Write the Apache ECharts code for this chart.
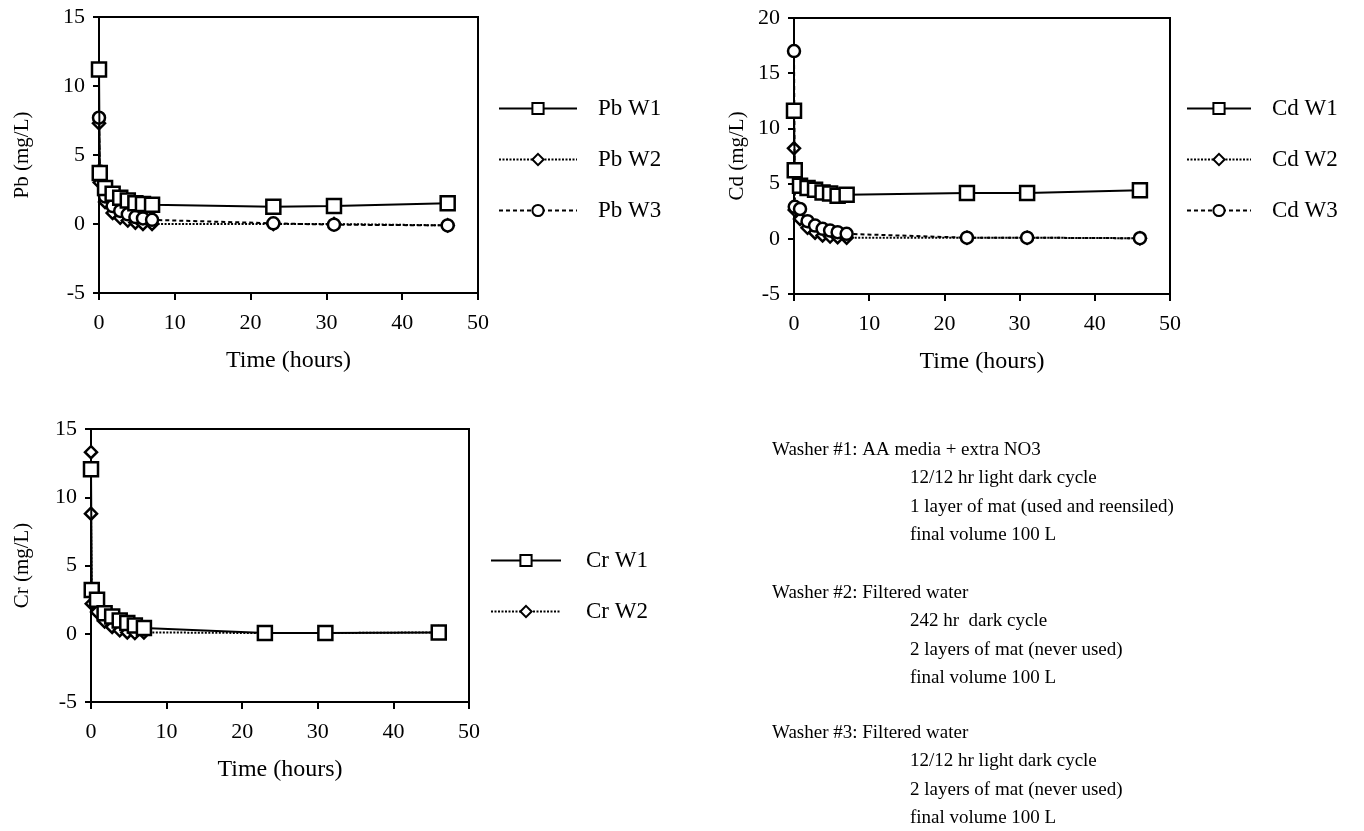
<!DOCTYPE html>
<html>
<head>
<meta charset="utf-8">
<script src="https://cdn.jsdelivr.net/npm/echarts@6/dist/echarts.min.js"></script>
<style>
html,body{margin:0;padding:0;background:#fff;}
#main{width:1364px;height:831px;}
</style>
</head>
<body>
<div id="main"></div>
<script>
// ---- data ----
const hours = [0, 0.1, 0.8, 1.8, 2.8, 3.8, 4.8, 5.8, 7, 23, 31, 46];
const crW2Hours = [0, 0, 0.1, 0.8, 1.8, 2.8, 3.8, 4.8, 5.8, 7, 23, 31, 46];

const pbW1 = [11.2, 3.7, 2.6, 2.2, 1.9, 1.7, 1.5, 1.45, 1.4, 1.25, 1.3, 1.5];
const pbW2 = [7.3, 3.0, 1.6, 0.8, 0.45, 0.25, 0.1, 0.0, 0.0, 0.0, 0.0, -0.1];
const pbW3 = [7.7, 3.8, 2.0, 1.3, 0.95, 0.7, 0.5, 0.4, 0.3, 0.05, -0.05, -0.1];

const cdW1 = [11.6, 6.2, 4.8, 4.6, 4.45, 4.2, 4.1, 3.9, 4.0, 4.15, 4.15, 4.4];
const cdW2 = [8.2, 2.6, 1.8, 1.0, 0.55, 0.3, 0.2, 0.15, 0.1, 0.1, 0.1, 0.05];
const cdW3 = [17.0, 2.9, 2.7, 1.6, 1.2, 0.9, 0.75, 0.6, 0.45, 0.1, 0.1, 0.05];

const crW1 = [12.05, 3.2, 2.5, 1.5, 1.27, 0.97, 0.78, 0.61, 0.42, 0.05, 0.05, 0.1];
const crW2 = [13.3, 8.8, 2.2, 1.6, 0.9, 0.5, 0.25, 0.1, 0.05, 0.1, 0.05, 0.05, 0.1];

const noteLines = [
  ['Washer #1: AA media + extra NO3', '12/12 hr light dark cycle', '1 layer of mat (used and reensiled)', 'final volume 100 L'],
  ['Washer #2: Filtered water', '242 hr  dark cycle', '2 layers of mat (never used)', 'final volume 100 L'],
  ['Washer #3: Filtered water', '12/12 hr light dark cycle', '2 layers of mat (never used)', 'final volume 100 L']
];

// ---- helpers ----
const FONT = 'Liberation Serif';
const pair = (xs, vals) => xs.map((h, i) => [h, vals[i]]);

const grids = [
  {left: 99, top: 17, width: 379, height: 276},
  {left: 794, top: 18, width: 376, height: 276},
  {left: 91, top: 429, width: 378, height: 273}
];
const yRanges = [[-5, 15], [-5, 20], [-5, 15]];
const yNames = ['Pb (mg/L)', 'Cd (mg/L)', 'Cr (mg/L)'];
const yNameGaps = [66, 46, 58];

function xAxis(i) {
  return {
    gridIndex: i, type: 'value', min: 0, max: 50, interval: 10,
    name: 'Time (hours)', nameLocation: 'middle', nameGap: 56,
    nameTextStyle: {fontFamily: FONT, fontSize: 24, color: '#000'},
    axisLine: {show: true, onZero: false, lineStyle: {color: '#000', width: 2}},
    axisTick: {show: true, inside: false, length: 7, lineStyle: {color: '#000', width: 2}},
    axisLabel: {fontFamily: FONT, fontSize: 22, color: '#000', margin: 19},
    splitLine: {show: false}
  };
}
function yAxis(i) {
  return {
    gridIndex: i, type: 'value', min: yRanges[i][0], max: yRanges[i][1], interval: 5,
    name: yNames[i], nameLocation: 'middle', nameGap: yNameGaps[i],
    nameTextStyle: {fontFamily: FONT, fontSize: 21, color: '#000'},
    axisLine: {show: true, onZero: false, lineStyle: {color: '#000', width: 2}},
    axisTick: {show: true, inside: false, length: 6, lineStyle: {color: '#000', width: 2}},
    axisLabel: {fontFamily: FONT, fontSize: 22, color: '#000', margin: 14},
    splitLine: {show: false}
  };
}

const styles = {
  W1: {symbol: 'rect', symbolSize: 14, lineStyle: {color: '#000', width: 2, type: 'solid'},
       itemStyle: {color: '#fff', borderColor: '#000', borderWidth: 2.5}, z: 5},
  W2: {symbol: 'diamond', symbolSize: 12, lineStyle: {color: '#000', width: 2, type: [2, 1.5]},
       itemStyle: {color: '#fff', borderColor: '#000', borderWidth: 2.5}, z: 3},
  W3: {symbol: 'circle', symbolSize: 12, lineStyle: {color: '#000', width: 2, type: [4, 3]},
       itemStyle: {color: '#fff', borderColor: '#000', borderWidth: 2.5}, z: 4}
};

function series(name, key, xs, vals, gi) {
  const s = styles[key];
  return {
    name: name, type: 'line', xAxisIndex: gi, yAxisIndex: gi,
    data: pair(xs, vals), symbol: s.symbol, symbolSize: s.symbolSize, showSymbol: true,
    lineStyle: s.lineStyle, itemStyle: s.itemStyle, z: s.z, animation: false,
    emphasis: {disabled: true}
  };
}

const seriesList = [
  series('Pb W2', 'W2', hours, pbW2, 0), series('Pb W3', 'W3', hours, pbW3, 0), series('Pb W1', 'W1', hours, pbW1, 0),
  series('Cd W2', 'W2', hours, cdW2, 1), series('Cd W3', 'W3', hours, cdW3, 1), series('Cd W1', 'W1', hours, cdW1, 1),
  series('Cr W2', 'W2', crW2Hours, crW2, 2), series('Cr W1', 'W1', hours, crW1, 2)
];

function legend(names, left, top, w, gap, textPad) {
  return {
    data: names, orient: 'vertical', left: left, top: top, padding: 0,
    itemWidth: w, itemHeight: 14, itemGap: gap, selectedMode: false,
    textStyle: {fontFamily: FONT, fontSize: 23, color: '#000', padding: [0, 0, 0, textPad]}
  };
}

const graphics = [];
const blockTops = [450, 593, 733];
noteLines.forEach((blk, b) => {
  blk.forEach((line, j) => {
    graphics.push({
      type: 'text', x: j === 0 ? 772 : 910, y: blockTops[b] + j * 28.5,
      style: {text: line, font: '19px "Liberation Serif"', fill: '#000', verticalAlign: 'middle', align: 'left'},
      silent: true
    });
  });
});

const chart = echarts.init(document.getElementById('main'), null, {renderer: 'canvas'});
chart.setOption({
  backgroundColor: '#fff',
  animation: false,
  grid: grids.map(g => Object.assign({show: true, borderColor: '#000', borderWidth: 2, backgroundColor: 'transparent'}, g)),
  xAxis: [0, 1, 2].map(xAxis),
  yAxis: [0, 1, 2].map(yAxis),
  legend: [
    legend(['Pb W1', 'Pb W2', 'Pb W3'], 498, 97, 78, 28, 16),
    legend(['Cd W1', 'Cd W2', 'Cd W3'], 1186, 97, 64, 28, 16),
    legend(['Cr W1', 'Cr W2'], 490, 549, 70, 28, 20)
  ],
  series: seriesList,
  graphic: graphics
});
</script>
</body>
</html>
